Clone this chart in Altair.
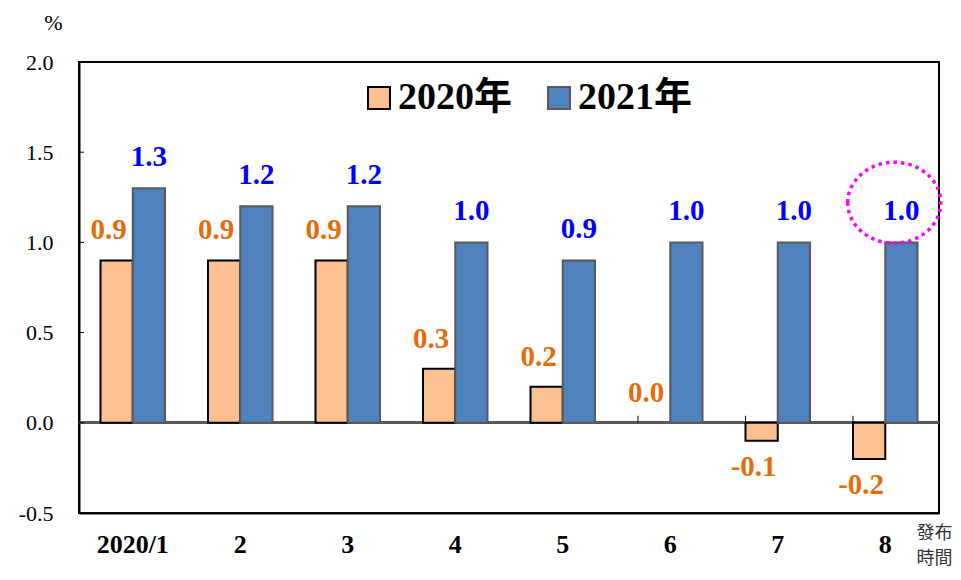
import altair as alt
import pandas as pd

categories = ["2020/1", "2", "3", "4", "5", "6", "7", "8"]
series = ["2020年", "2021年"]
v2020 = [0.9, 0.9, 0.9, 0.3, 0.2, 0.0, -0.1, -0.2]
v2021 = [1.3, 1.2, 1.2, 1.0, 0.9, 1.0, 1.0, 1.0]
y_ticks = [-0.5, 0.0, 0.5, 1.0, 1.5, 2.0]
highlight_cat = ["8"]
highlight_val = [1.22]

rows = []
for c, a, b in zip(categories, v2020, v2021):
    rows.append({"cat": c, "series": series[0], "value": a, "label": f"{a:.1f}"})
    rows.append({"cat": c, "series": series[1], "value": b, "label": f"{b:.1f}"})
df = pd.DataFrame(rows)
tick_df = pd.DataFrame({"t": y_ticks[1:-1]})
bound_df = pd.DataFrame({"cat": categories[1:]})
hl_df = pd.DataFrame({"cat": highlight_cat, "value": highlight_val})

SERIF = "Liberation Serif, Noto Sans CJK TC"
ORANGE = "#FAC090"
BLUE = "#4F81BD"
ORANGE_TXT = "#E46C0A"
BLUE_TXT = "#0000FF"

xscale = alt.Scale(domain=categories, paddingInner=0.4, paddingOuter=0.2)
xaxis = alt.Axis(
    title=["發布", "時間"], titleX=855, titleY=11, titleAlign="center",
    titleBaseline="top", titleFont="Noto Sans CJK TC", titleFontSize=18,
    titleFontWeight="normal", titleColor="#333333", titleLineHeight=25,
    labelAngle=0, ticks=False, labelFont=SERIF, labelFontSize=26,
    labelFontWeight="bold", labelColor="black", labelPadding=18,
    domainColor="black", domainWidth=2, grid=False,
)
yscale = alt.Scale(domain=[-0.5, 2.0], nice=False, zero=False)
yaxis = alt.Axis(
    title="%", titleAngle=0, titleX=-26, titleY=-40, titleAlign="center",
    titleBaseline="middle", titleFont=SERIF, titleFontSize=22,
    titleFontWeight="normal", titleColor="black",
    values=y_ticks, ticks=False, labelFont=SERIF,
    labelExpr="datum.value < 0 ? '-' + format(-datum.value, '.1f') : format(datum.value, '.1f')",
    labelFontSize=22, labelColor="black", labelPadding=26,
    domainColor="black", domainWidth=2, grid=False,
)


def X(field="cat", **kw):
    return alt.X(f"{field}:N", sort=categories, scale=xscale, axis=xaxis, **kw)


def Y(field="value"):
    return alt.Y(f"{field}:Q", scale=yscale, axis=yaxis)


xoff = alt.XOffset("series:N", sort=series, scale=alt.Scale(domain=series))

zero_line = alt.Chart(df).mark_rule(color="#595959", strokeWidth=2).encode(
    y=alt.datum(0)
)

legend = alt.Legend(
    title=None, orient="none", legendX=281, legendY=17, direction="horizontal",
    symbolType="square", symbolSize=484, symbolStrokeWidth=2,
    labelFont=SERIF, labelFontSize=38, labelFontWeight="bold",
    labelColor="black", labelOffset=0, columnPadding=27, labelLimit=300,
)

bars = alt.Chart(df).transform_filter(alt.datum.value != 0).mark_bar(strokeWidth=2).encode(
    x=X(),
    xOffset=xoff,
    y=Y(),
    y2=alt.datum(0),
    fill=alt.Fill("series:N", sort=series,
                  scale=alt.Scale(domain=series, range=[ORANGE, BLUE]),
                  legend=legend),
    stroke=alt.Stroke("series:N", sort=series,
                      scale=alt.Scale(domain=series, range=["black", "#595959"]),
                      legend=legend),
)

txt_kw = dict(font=SERIF, fontSize=29, fontWeight="bold", baseline="alphabetic",
              align="center")

lab_o_pos = alt.Chart(df).transform_filter(
    (alt.datum.series == series[0]) & (alt.datum.value >= 0)
).mark_text(color=ORANGE_TXT, dx=-8, dy=-21, **txt_kw).encode(
    x=X(), xOffset=xoff, y=Y(), text="label:N"
)
lab_o_neg = alt.Chart(df).transform_filter(
    (alt.datum.series == series[0]) & (alt.datum.value < 0)
).mark_text(color=ORANGE_TXT, dx=-8, dy=35, **txt_kw).encode(
    x=X(), xOffset=xoff, y=Y(), text="label:N"
)
lab_b = alt.Chart(df).transform_filter(
    alt.datum.series == series[1]
).mark_text(color=BLUE_TXT, dx=0, dy=-22, **txt_kw).encode(
    x=X(), xOffset=xoff, y=Y(), text="label:N"
)

ytick_marks = alt.Chart(tick_df).mark_rule(color="black", strokeWidth=1).encode(
    y=Y("t"), x=alt.value(0), x2=alt.value(5)
)

bound_ticks = alt.Chart(bound_df).mark_rule(
    color="black", strokeWidth=1, y2Offset=-7
).encode(
    x=X(bandPosition=0), y=alt.datum(0), y2=alt.datum(0)
)

ellipse_path = "M -1 0 A 1 0.87 0 1 1 1 0 A 1 0.87 0 1 1 -1 0 Z"
circle = alt.Chart(hl_df).mark_point(
    shape=ellipse_path, size=8649, filled=False, stroke="#FF00FF",
    strokeWidth=3.5, strokeDash=[3.5, 4], xOffset=9, opacity=1
).encode(x=X(), y=Y())

chart = alt.layer(
    zero_line, bars, bound_ticks, ytick_marks, lab_o_pos, lab_o_neg, lab_b, circle
).properties(
    width=860, height=451,
    padding={"left": 71, "top": 54, "right": 14, "bottom": 58},
    autosize=alt.AutoSizeParams(type="none"),
).configure_view(stroke="black", strokeWidth=2)

chart.save("out.html", embed_options={"renderer": "svg", "actions": False})
